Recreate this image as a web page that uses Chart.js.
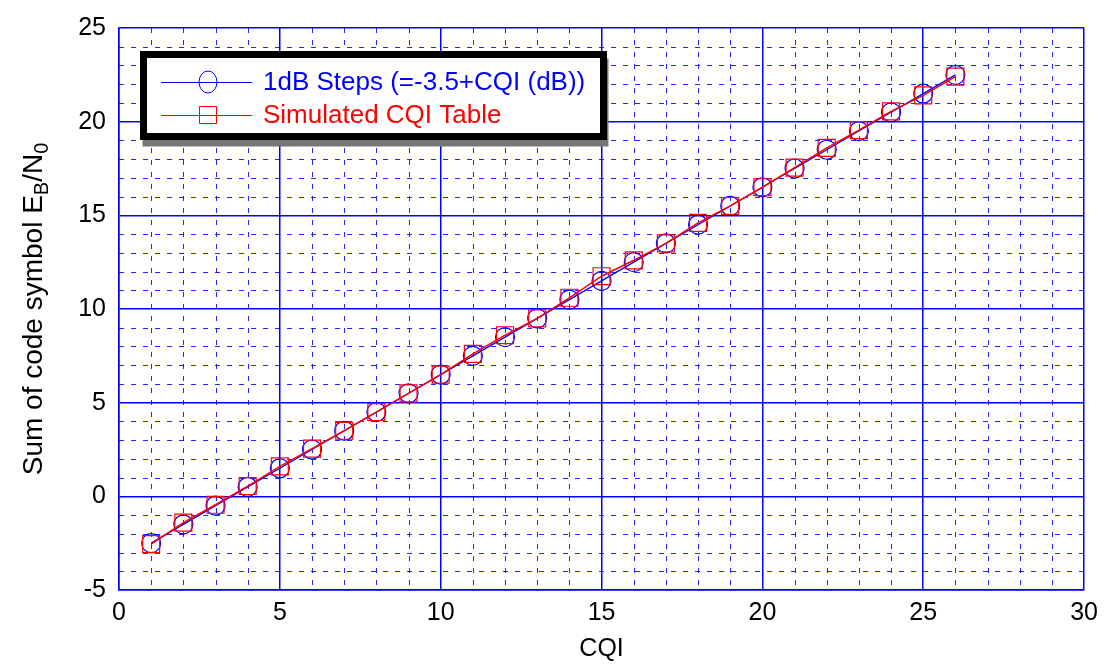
<!DOCTYPE html>
<html><head><meta charset="utf-8">
<script src="https://cdn.jsdelivr.net/npm/chart.js@4.4.0/dist/chart.umd.min.js"></script>
<style>html,body{margin:0;padding:0;background:#fff}#wrap{width:1106px;height:664px}</style>
</head><body><div id="wrap"><canvas id="c" width="1106" height="664"></canvas></div>
<script>
const cqi = [1,2,3,4,5,6,7,8,9,10,11,12,13,14,15,16,17,18,19,20,21,22,23,24,25,26];
const stepsDb = [-2.5,-1.5,-0.5,0.5,1.5,2.5,3.5,4.5,5.5,6.5,7.5,8.5,9.5,10.5,11.5,12.5,13.5,14.5,15.5,16.5,17.5,18.5,19.5,20.5,21.5,22.5];
const simulatedDb = [-2.55,-1.4,-0.45,0.55,1.6,2.55,3.5,4.5,5.5,6.5,7.6,8.6,9.5,10.6,11.75,12.6,13.5,14.6,15.5,16.5,17.55,18.6,19.55,20.55,21.4,22.4];
const xTicks = [0,5,10,15,20,25,30];
const yTicks = [-5,0,5,10,15,20,25];
const seriesNames = ['1dB Steps (=-3.5+CQI (dB))','Simulated CQI Table'];
const xTitle = 'CQI';
const yTitleParts = [['Sum of code symbol E',false],['B',true],['/N',false],['0',true]];

const BLUE = '#0000ff', RED = '#ff0000';
const FONT = '"Liberation Sans", Arial, sans-serif';

const minorGrid = {
  id: 'minorGrid',
  beforeDatasetsDraw(chart) {
    const {ctx, chartArea: a, scales: {x, y}} = chart;
    ctx.save();
    ctx.strokeStyle = 'rgba(0,0,255,0.85)';
    ctx.lineWidth = 1;
    ctx.setLineDash([5, 7]);
    for (let v = xTicks[0]; v <= xTicks[xTicks.length-1]; v++) {
      if (xTicks.includes(v)) continue;
      const px = Math.round(x.getPixelForValue(v)) + 0.5;
      ctx.beginPath(); ctx.moveTo(px, a.top); ctx.lineTo(px, a.bottom); ctx.stroke();
    }
    for (let v = yTicks[0]; v <= yTicks[yTicks.length-1]; v++) {
      if (yTicks.includes(v)) continue;
      const py = Math.round(y.getPixelForValue(v)) + 0.5;
      ctx.beginPath(); ctx.moveTo(a.left, py); ctx.lineTo(a.right, py); ctx.stroke();
    }
    ctx.restore();
  }
};

const yTitle = {
  id: 'yTitle',
  afterDraw(chart) {
    const {ctx, chartArea: a} = chart;
    ctx.save();
    ctx.translate(34, (a.top + a.bottom) / 2);
    ctx.rotate(-Math.PI / 2);
    ctx.fillStyle = '#000';
    ctx.textBaseline = 'middle';
    const big = '28px ' + FONT, small = '20px ' + FONT;
    let total = 0;
    for (const [t, sub] of yTitleParts) { ctx.font = sub ? small : big; total += ctx.measureText(t).width; }
    let cx = -total / 2;
    for (const [t, sub] of yTitleParts) {
      ctx.font = sub ? small : big;
      ctx.fillText(t, cx, sub ? 8 : 0);
      cx += ctx.measureText(t).width;
    }
    ctx.restore();
  }
};

const boxLegend = {
  id: 'boxLegend',
  afterDraw(chart) {
    const {ctx} = chart;
    ctx.save();
    const L = 143.5, T = 54.5, W = 460, H = 82;
    ctx.fillStyle = '#777';
    ctx.fillRect(L - 1, T + 4, W + 6, H + 6);
    ctx.fillStyle = '#fff';
    ctx.fillRect(L, T, W, H);
    ctx.strokeStyle = '#000';
    ctx.lineWidth = 7;
    ctx.strokeRect(L, T, W, H);
    const rows = [[82, BLUE, 'circle'], [115, RED, 'rect']];
    ctx.font = '26px ' + FONT;
    ctx.textBaseline = 'middle';
    rows.forEach(([yy, col, shape], i) => {
      ctx.strokeStyle = col; ctx.lineWidth = 1;
      ctx.beginPath(); ctx.moveTo(161, yy + 0.5); ctx.lineTo(252, yy + 0.5); ctx.stroke();
      ctx.beginPath();
      if (shape === 'circle') ctx.ellipse(208, yy, 9, 11, 0, 0, Math.PI * 2);
      else ctx.rect(199.5, yy - 8.5, 17, 17);
      ctx.stroke();
      ctx.fillStyle = col;
      ctx.fillText(seriesNames[i], 263, yy + 1);
    });
    ctx.restore();
  }
};

Chart.defaults.font.family = FONT;
new Chart(document.getElementById('c'), {
  type: 'line',
  data: {
    datasets: [
      {
        label: seriesNames[1],
        data: cqi.map((c, i) => ({x: c, y: simulatedDb[i]})),
        borderColor: RED, backgroundColor: 'transparent',
        borderWidth: 1.5, pointStyle: 'rect', pointRadius: 12,
        pointBorderColor: RED, pointBorderWidth: 1.2, pointBackgroundColor: 'transparent',
        order: 0
      },
      {
        label: seriesNames[0],
        data: cqi.map((c, i) => ({x: c, y: stepsDb[i]})),
        borderColor: BLUE, backgroundColor: 'transparent',
        borderWidth: 1.3, pointStyle: 'circle', pointRadius: 9.5,
        pointBorderColor: BLUE, pointBorderWidth: 1.2, pointBackgroundColor: 'transparent',
        order: 1
      }
    ]
  },
  options: {
    responsive: false, animation: false, devicePixelRatio: 1,
    layout: {padding: {left: 0, top: 24, right: 21, bottom: 0}},
    plugins: {legend: {display: false}, tooltip: {enabled: false}},
    scales: {
      x: {
        type: 'linear', min: 0, max: 30,
        afterBuildTicks: s => { s.ticks = xTicks.map(v => ({value: v})); },
        afterFit: s => { s.height = 664 - 590; },
        ticks: {color: '#000', font: {size: 25}, padding: 8, maxRotation: 0, autoSkip: false},
        grid: {color: BLUE, lineWidth: 1.5, drawTicks: false},
        border: {display: true, color: BLUE, width: 1.5},
        title: {display: true, text: xTitle, color: '#000', font: {size: 25}, padding: {top: 0, bottom: 0}}
      },
      y: {
        type: 'linear', min: -5, max: 25,
        afterBuildTicks: s => { s.ticks = yTicks.map(v => ({value: v})); },
        afterFit: s => { s.width = 119; },
        ticks: {color: '#000', font: {size: 25}, padding: 13},
        grid: {color: BLUE, lineWidth: 1.5, drawTicks: false},
        border: {display: true, color: BLUE, width: 1.5}
      }
    }
  },
  plugins: [minorGrid, yTitle, boxLegend]
});
</script>
</body></html>
